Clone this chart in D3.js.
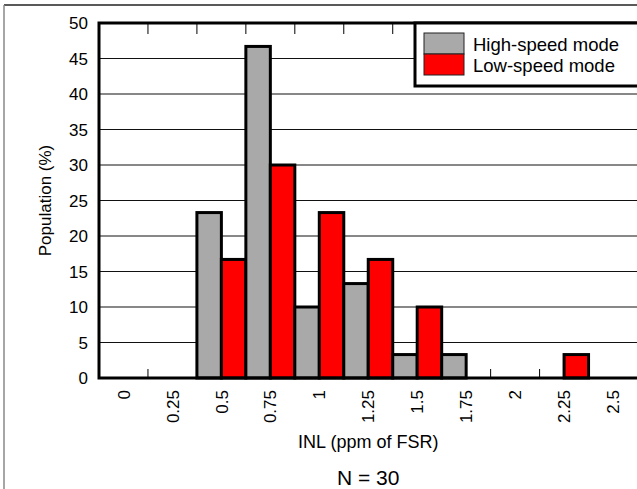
<!DOCTYPE html>
<html>
<head>
<meta charset="utf-8">
<script src="https://cdn.jsdelivr.net/npm/d3@7"></script>
<style>
  body { margin: 0; background: #fff; }
  svg { display: block; font-family: "Liberation Sans", Arial, sans-serif; }
</style>
</head>
<body>
<div id="chart"></div>
<script>
// INL histogram data (population %)
const bins = ["0", "0.25", "0.5", "0.75", "1", "1.25", "1.5", "1.75", "2", "2.25", "2.5"];
const highSpeed = [0, 0, 23.3, 46.7, 10, 13.3, 3.3, 3.3, 0, 0, 0];
const lowSpeed = [0, 0, 16.7, 30, 23.3, 16.7, 10, 0, 0, 3.3, 0];
const seriesNames = ["High-speed mode", "Low-speed mode"];
const seriesColors = ["#a9a9a9", "#ff0000"];
const yTicks = [0, 5, 10, 15, 20, 25, 30, 35, 40, 45, 50];

const width = 637, height = 489;
const margin = {top: 23, right: 0, bottom: 111, left: 99};
const innerW = 637.5 - margin.left;
const innerH = height - margin.top - margin.bottom;

const svg = d3.select("#chart").append("svg")
    .attr("width", width)
    .attr("height", height);

// outer frame lines
svg.append("line").attr("x1", 4).attr("x2", width).attr("y1", 5).attr("y2", 5)
    .attr("stroke", "#222").attr("stroke-width", 1.5);
svg.append("line").attr("x1", 4).attr("x2", 4).attr("y1", 5).attr("y2", height)
    .attr("stroke", "#888").attr("stroke-width", 1.5);

const chart = svg.append("g")
    .attr("transform", `translate(${margin.left},${margin.top})`);

const x = d3.scaleBand().domain(bins).range([0, innerW]);
const xSub = d3.scaleBand().domain(seriesNames).range([0, x.bandwidth()]);
const y = d3.scaleLinear().domain([0, 50]).range([innerH, 0]);

// gridlines
chart.selectAll(".grid")
    .data(yTicks.filter(d => d > 0 && d < 50))
    .join("line")
    .attr("class", "grid")
    .attr("x1", 0).attr("x2", innerW)
    .attr("y1", d => y(d)).attr("y2", d => y(d))
    .attr("stroke", "#111").attr("stroke-width", 1);

// bars
const rows = bins.map((b, i) => ({bin: b, values: [highSpeed[i], lowSpeed[i]]}));
const groups = chart.selectAll(".bin")
    .data(rows)
    .join("g")
    .attr("class", "bin")
    .attr("transform", d => `translate(${x(d.bin)},0)`);

groups.selectAll("rect")
    .data(d => d.values.map((v, j) => ({name: seriesNames[j], v, j})).filter(d => d.v > 0))
    .join("rect")
    .attr("x", d => xSub(d.name))
    .attr("y", d => y(d.v))
    .attr("width", xSub.bandwidth())
    .attr("height", d => y(0) - y(d.v))
    .attr("fill", d => seriesColors[d.j])
    .attr("stroke", "#000")
    .attr("stroke-width", 3);

// minor ticks at bin boundaries (bottom and top)
const bounds = bins.slice(1).map(b => x(b));
chart.selectAll(".tickB")
    .data(bounds)
    .join("line")
    .attr("x1", d => d).attr("x2", d => d)
    .attr("y1", innerH).attr("y2", innerH - 9)
    .attr("stroke", "#000").attr("stroke-width", 1);
chart.selectAll(".tickT")
    .data(bounds)
    .join("line")
    .attr("x1", d => d).attr("x2", d => d)
    .attr("y1", 0).attr("y2", 11)
    .attr("stroke", "#000").attr("stroke-width", 1);

// axis frame
chart.append("path")
    .attr("d", `M${innerW + 5},0H0V${innerH}H${innerW + 5}`)
    .attr("fill", "none")
    .attr("stroke", "#000")
    .attr("stroke-width", 3);

// y tick labels
chart.selectAll(".ylab")
    .data(yTicks)
    .join("text")
    .attr("x", -11)
    .attr("y", d => y(d))
    .attr("dy", "0.36em")
    .attr("text-anchor", "end")
    .attr("font-size", 17)
    .text(d => d);

// x tick labels
chart.selectAll(".xlab")
    .data(bins)
    .join("text")
    .attr("transform", d => `translate(${x(d) + x.bandwidth() / 2},${innerH + 12}) rotate(-90)`)
    .attr("dy", "0.36em")
    .attr("text-anchor", "end")
    .attr("font-size", 17)
    .text(d => d);

// axis titles
svg.append("text")
    .attr("transform", `translate(51,${margin.top + innerH / 2}) rotate(-90)`)
    .attr("text-anchor", "middle")
    .attr("font-size", 17)
    .text("Population (%)");

svg.append("text")
    .attr("x", margin.left + innerW / 2)
    .attr("y", 448)
    .attr("text-anchor", "middle")
    .attr("font-size", 18)
    .text("INL (ppm of FSR)");

svg.append("text")
    .attr("x", margin.left + innerW / 2)
    .attr("y", 485)
    .attr("text-anchor", "middle")
    .attr("font-size", 21)
    .text("N = 30");

// legend
const legend = svg.append("g");
legend.append("rect")
    .attr("x", 415).attr("y", 23)
    .attr("width", 240).attr("height", 63)
    .attr("fill", "#fff")
    .attr("stroke", "#000")
    .attr("stroke-width", 3);
legend.selectAll(".sw")
    .data(seriesNames)
    .join("rect")
    .attr("x", 424)
    .attr("y", (d, i) => 33 + i * 21)
    .attr("width", 40)
    .attr("height", 21)
    .attr("fill", (d, i) => seriesColors[i])
    .attr("stroke", "#222")
    .attr("stroke-width", 1);
legend.selectAll(".lt")
    .data(seriesNames)
    .join("text")
    .attr("x", 473)
    .attr("y", (d, i) => 50.5 + i * 21)
    .attr("font-size", 18.5)
    .text(d => d);
</script>
</body>
</html>
